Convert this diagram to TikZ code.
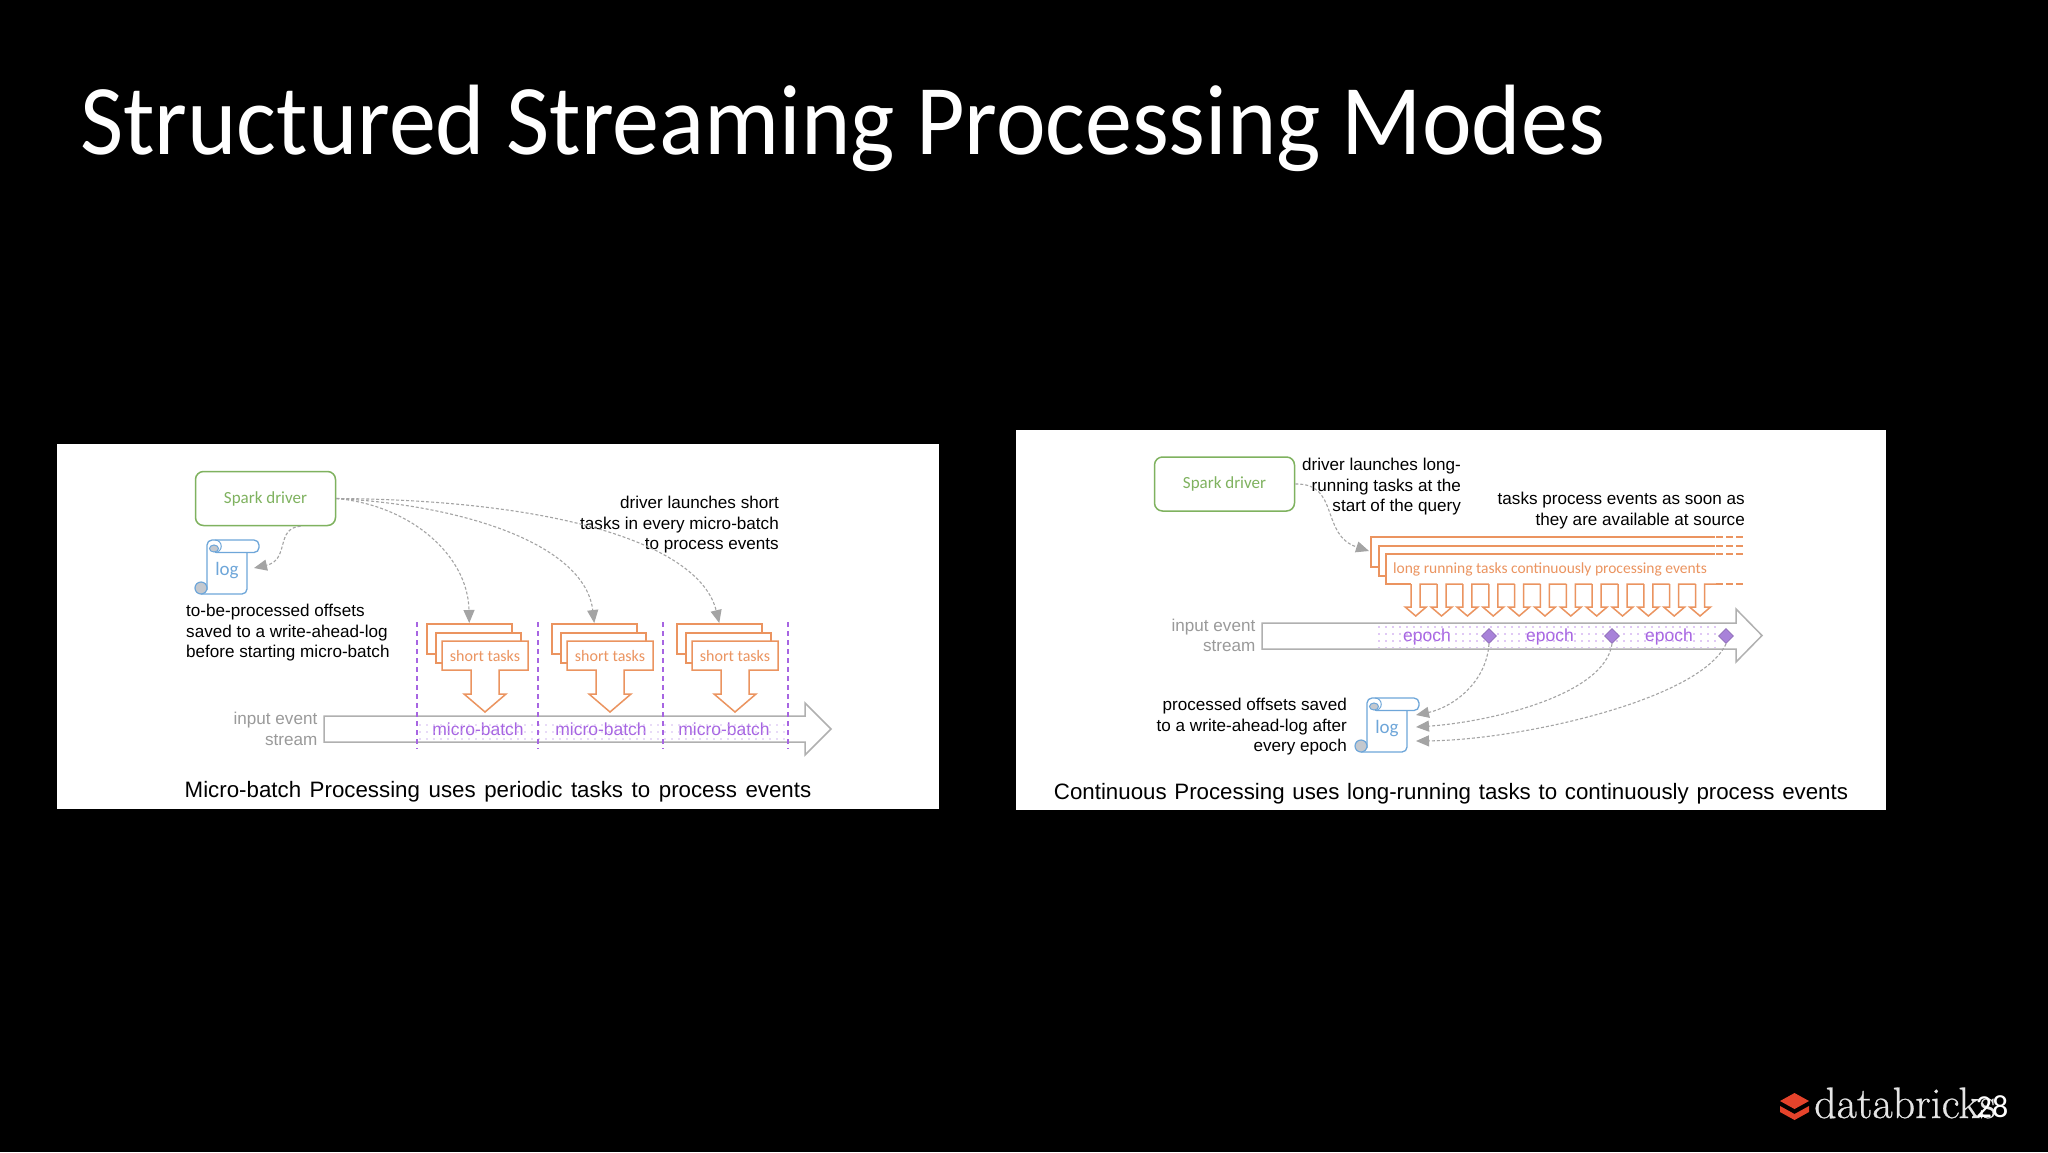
\documentclass[tikz,border=0pt]{standalone}
\usepackage{fontspec}
\usetikzlibrary{arrows.meta,patterns.meta,shapes.geometric}
\newfontfamily\carlito{Carlito}
\newfontfamily\titlefont[FakeStretch=.94]{Carlito}
\newfontfamily\arial{Liberation Sans}
\newfontfamily\logofont[FakeBold=.6]{Latin Modern Roman}
\definecolor{drivergreen}{HTML}{7FB25F}
\definecolor{logblue}{HTML}{6EA6D9}
\definecolor{taskorange}{HTML}{EB9460}
\definecolor{batchpurple}{HTML}{A765E2}
\definecolor{dotpurple}{HTML}{BE9AE8}
\definecolor{markerpurple}{HTML}{A882D9}
\definecolor{streamgray}{HTML}{B0B0B0}
\definecolor{labelgray}{HTML}{9A9A9A}
\definecolor{arrowgray}{HTML}{A4A4A4}
\definecolor{curlgray}{HTML}{C4C8CE}
\definecolor{brickred}{HTML}{E5432B}
\tikzset{
  panel/.style={fill=white,draw=none},
  driver/.style={draw=drivergreen,line width=1.5pt,rounded corners=8pt,minimum width=140pt,minimum height=54pt,text=drivergreen,font=\carlito\fontsize{17}{20}\selectfont,inner sep=0pt},
  note/.style={inner sep=0pt,font=\arial\fontsize{17.1}{20.5}\selectfont},
  graynote/.style={note,text=labelgray,align=right,anchor=east},
  caption/.style={inner sep=0pt,font=\arial\fontsize{22.3}{26}\selectfont,execute at begin node={\spaceskip=#1pt\relax}},
  taskline/.style={draw=taskorange,line width=1.5pt},
  taskbox/.style={taskline,fill=white,inner sep=0pt,anchor=north west,minimum width=85pt,minimum height=30pt},
  tasktext/.style={inner sep=0pt,text=taskorange,font=\carlito\fontsize{16}{20}\selectfont},
  streamline/.style={draw=streamgray,line width=1.5pt,fill=white},
  dotted area/.style={pattern={Dots[distance=7pt,radius=.8pt]},pattern color=#1,draw=none},
  batchtext/.style={inner sep=0pt,text=batchpurple,font=\arial\fontsize{17.5}{20}\selectfont},
  batchline/.style={draw=batchpurple,line width=1.5pt,dash pattern=on 5pt off 4pt},
  call/.style={draw=arrowgray,line width=1.1pt,dash pattern=on 3pt off 2pt,-{Triangle[length=13pt,width=11pt,fill=arrowgray]}},
  marker/.style={diamond,fill=markerpurple,draw=markerpurple!85!black,line width=.6pt,minimum size=15pt,inner sep=0pt},
  shorttasks/.pic={
    \node[taskbox] (-back) at (0,0) {};
    \node[taskbox] (-mid) at (9,9) {};
    \draw[taskline,fill=white] (16,18) -- (102,18) -- (102,47) -- (73,47) -- (73,71) -- (80,71) -- (59,89) -- (38,71) -- (45,71) -- (45,47) -- (16,47) -- cycle;
    \node[tasktext] (-txt) at (59,33) {short tasks};
  },
  logscroll/.pic={
    \draw[draw=logblue,line width=1.3pt,rounded corners=5pt] (0,50) -- (0,0) -- (52,0) -- (52,12.5) -- (9,12.5);
    \draw[draw=logblue,line width=1.3pt,rounded corners=5pt] (40,12.5) -- (40,54) -- (-6,54);
    \filldraw[draw=logblue,line width=1pt,fill=curlgray] (7,8.5) ellipse (4.5pt and 3.5pt);
    \draw[draw=logblue,line width=1pt] (8,0) arc (-90:90:6.25);
    \filldraw[draw=logblue,line width=1.2pt,fill=curlgray] (-6,48) circle (6pt);
    \node[inner sep=0pt,text=logblue,font=\carlito\fontsize{19}{22}\selectfont] (-txt) at (20,31) {log};
  }
}
\begin{document}
\begin{tikzpicture}[x=1pt,y=-1pt]
\fill[black] (0,0) rectangle (2048,1152);
\useasboundingbox (0,0) rectangle (2048,1152);
\node[anchor=base west,inner sep=0pt,text=white,font=\titlefont\fontsize{100}{110}\selectfont] (title) at (80,154) {Structured Streaming Processing Modes};
\fill[panel] (57,444) rectangle (939,809);
\fill[panel] (1016,430) rectangle (1886,810);
\draw[streamline] (324,716) -- (805,716) -- (805,703) -- (831,729) -- (805,755) -- (805,742) -- (324,742) -- cycle;
\draw (265.5,498.5) node[driver](d1){Spark driver}
    (478,729) node[batchtext](b1){micro-batch}
    (601,729) node[batchtext](b2){micro-batch}
    (724,729) node[batchtext](b3){micro-batch}
    (317.5,729) node[graynote](s1){input event\\stream}
    (186,633) node[note,align=left,anchor=west](n1){to-be-processed offsets\\saved to a write-ahead-log\\before starting micro-batch}
    (779,525) node[note,align=right,anchor=east](n2){driver launches short\\tasks in every micro-batch\\to process events}
    (498,792) node[caption=8.6](c1){Micro-batch Processing uses periodic tasks to process events};
\fill[dotted area=dotpurple!70] (417,719) rectangle (788,741);
\draw (207,540) pic (l1) {logscroll};
\draw (426,623) pic (t1) {shorttasks};
\draw (551,623) pic (t2) {shorttasks};
\draw (676,623) pic (t3) {shorttasks};
\foreach \x in {417,538,663,788}
    \draw[batchline] (\x,622) -- (\x,749);
\coordinate (l1in) at (254,568);
\draw[call] ([xshift=35pt]d1.south) .. controls (275,528) and (290,560) .. (l1in);
\draw[call] (d1.east) .. controls (410,505) and (468,555) .. (t1-back.north);
\draw[call] (d1.east) .. controls (465,505) and (585,545) .. (t2-back.north);
\draw[call] (d1.east) .. controls (560,500) and (700,545) .. (t3-back.north);
\draw[streamline] (1262,623) -- (1736,623) -- (1736,609) -- (1762,635.5) -- (1736,662) -- (1736,649) -- (1262,649) -- cycle;
\draw (1224.5,484) node[driver](d2){Spark driver}
    (1427,636.5) node[batchtext](e1){epoch}
    (1550,636.5) node[batchtext](e2){epoch}
    (1669,636.5) node[batchtext](e3){epoch}
    (1255.5,635.5) node[graynote](s2){input event\\stream}
    (1461,487) node[note,align=right,anchor=east](n3){driver launches long-\\running tasks at the\\start of the query}
    (1745,510.5) node[note,align=right,anchor=east](n4){tasks process events as soon as\\they are available at source}
    (1347,727) node[note,align=right,anchor=east](n5){processed offsets saved\\to a write-ahead-log after\\every epoch}
    (1451,794) node[caption=7.7](c2){Continuous Processing uses long-running tasks to continuously process events}
    (1550,569.5) node[tasktext,font=\carlito\fontsize{15.5}{20}\selectfont](t4){long running tasks continuously processing events};
\fill[dotted area=batchpurple!70] (1375,625) rectangle (1720,647);
\draw (1489,636) node[marker](m1){}
    (1612,636) node[marker](m2){}
    (1726,636) node[marker](m3){};
\draw[taskline] (1715,537) -- (1371,537) -- (1371,567) -- (1379,567);
\draw[taskline] (1715,546) -- (1379,546) -- (1379,576) -- (1386,576);
\draw[taskline] (1715,554) -- (1386,554) -- (1386,584) -- (1411,584);
\foreach \y in {537,546,554,584}
    \draw[taskline,dash pattern=on 7pt off 3pt] (1716,\y) -- (1745,\y);
\foreach \i in {0,...,11}
    \draw[taskline,shift={(1415.7+25.85*\i,0)}] (-4.5,584) -- (-4.5,607) -- (-10.5,607) -- (0,616) -- (10.5,607) -- (4.5,607) -- (4.5,584) -- (21.35,584);
\draw (1367,698) pic (l2) {logscroll};
\coordinate (l2a) at (1416,715);
\coordinate (l2b) at (1416,727);
\coordinate (l2c) at (1416,741);
\coordinate (t4in) at (1369,551);
\draw[call] (d2.east) .. controls (1340,483) and (1320,535) .. (t4in);
\draw[call] (m1.south) .. controls (1486,685) and (1450,708) .. (l2a);
\draw[call] (m2.south) .. controls (1605,695) and (1490,722) .. (l2b);
\draw[call] (m3.south) .. controls (1700,700) and (1520,740) .. (l2c);
\fill[brickred] (1780,1101) -- (1794.5,1093) -- (1809,1101) -- (1794.5,1109) -- cycle;
\fill[brickred] (1780,1106) -- (1794.5,1114) -- (1809,1106) -- (1809,1112) -- (1794.5,1120) -- (1780,1112) -- cycle;
\node[anchor=base west,inner sep=0pt,text=white!90!black,font=\logofont\fontsize{44}{48}\selectfont] (logo) at (1814,1118) {databricks};
\node[inner sep=0pt,text=white,font=\carlito\fontsize{32}{34}\selectfont] (page) at (1992,1107) {28};
\end{tikzpicture}
\end{document}
